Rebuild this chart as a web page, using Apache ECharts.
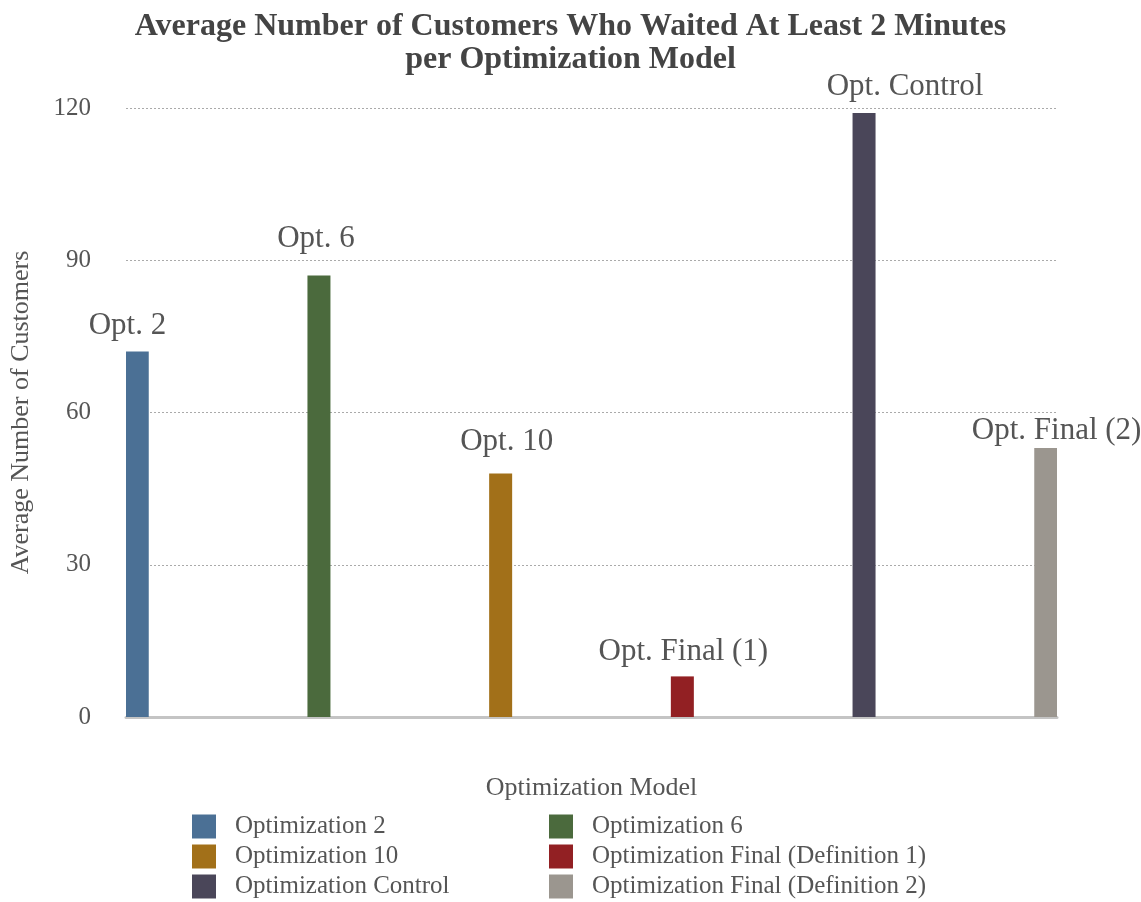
<!DOCTYPE html>
<html>
<head>
<meta charset="utf-8">
<script src="https://cdn.jsdelivr.net/npm/echarts@6/dist/echarts.min.js"></script>
<style>
  html, body { margin: 0; padding: 0; background: #ffffff; }
  #chart { width: 1141px; height: 902px; }
</style>
</head>
<body>
<div id="chart"></div>
<script>
// Data
const seriesNames = [
  'Optimization 2',
  'Optimization 6',
  'Optimization 10',
  'Optimization Final (Definition 1)',
  'Optimization Control',
  'Optimization Final (Definition 2)'
];
const shortLabels = ['Opt. 2', 'Opt. 6', 'Opt. 10', 'Opt. Final (1)', 'Opt. Control', 'Opt. Final (2)'];
const avgCustomers = [72, 87, 48, 8, 119, 53];
const yTicks = [0, 30, 60, 90, 120];

// Styling
const colors = ['#4b7095', '#4b6a3d', '#a27019', '#922023', '#4a4659', '#9b968f'];
const labelOffsets = [[-10, -5], [-3, -16], [6, -11], [1, -4], [41, -6], [11, 3]];
const FONT = "'Liberation Serif', 'DejaVu Serif', serif";

const chart = echarts.init(document.getElementById('chart'));

const series = seriesNames.map((name, i) => ({
  name: name,
  type: 'bar',
  data: [avgCustomers[i]],
  barWidth: 23,
  barGap: '690%',
  itemStyle: { color: colors[i] },
  label: {
    show: true,
    position: 'top',
    distance: 5,
    offset: labelOffsets[i],
    formatter: () => shortLabels[i],
    fontFamily: FONT,
    fontSize: 31,
    color: '#555555'
  }
}));

const legendText = {
  fontFamily: FONT,
  fontSize: 25,
  lineHeight: 24,
  color: '#555555',
  padding: [0, 0, 0, 14]
};

chart.setOption({
  animation: false,
  color: colors,
  title: {
    text: 'Average Number of Customers Who Waited At Least 2 Minutes\nper Optimization Model',
    left: 'center',
    top: 5,
    textStyle: {
      fontFamily: FONT,
      fontWeight: 'bold',
      fontSize: 32,
      lineHeight: 33,
      color: '#444444'
    }
  },
  legend: [
    {
      orient: 'vertical',
      left: 192,
      top: 814,
      height: 88,
      padding: 0,
      itemWidth: 24,
      itemHeight: 24,
      itemGap: 5,
      icon: 'rect',
      data: [seriesNames[0], seriesNames[2], seriesNames[4]],
      textStyle: legendText
    },
    {
      orient: 'vertical',
      left: 549,
      top: 814,
      height: 88,
      padding: 0,
      itemWidth: 24,
      itemHeight: 24,
      itemGap: 5,
      icon: 'rect',
      data: [seriesNames[1], seriesNames[3], seriesNames[5]],
      textStyle: legendText
    }
  ],
  grid: {
    left: 122,
    right: 84,
    top: 108,
    bottom: 185,
    containLabel: false
  },
  xAxis: {
    type: 'category',
    data: ['Optimization Model'],
    name: 'Optimization Model',
    nameLocation: 'middle',
    nameGap: 58,
    nameTextStyle: { fontFamily: FONT, fontSize: 26, color: '#555555' },
    axisLine: { show: true, lineStyle: { color: '#c4c4c4', width: 3 } },
    axisTick: { show: false },
    axisLabel: { show: false },
    splitLine: { show: false }
  },
  yAxis: {
    type: 'value',
    min: yTicks[0],
    max: yTicks[yTicks.length - 1],
    interval: yTicks[1] - yTicks[0],
    name: 'Average Number of Customers',
    nameLocation: 'middle',
    nameGap: 92,
    nameTextStyle: { fontFamily: FONT, fontSize: 26, color: '#555555' },
    axisLine: { show: false },
    axisTick: { show: false },
    axisLabel: {
      margin: 35,
      fontFamily: FONT,
      fontSize: 25,
      color: '#555555'
    },
    splitLine: {
      show: true,
      lineStyle: { color: '#aaaaaa', type: [2, 2], width: 1 }
    }
  },
  series: series
});
</script>
</body>
</html>
